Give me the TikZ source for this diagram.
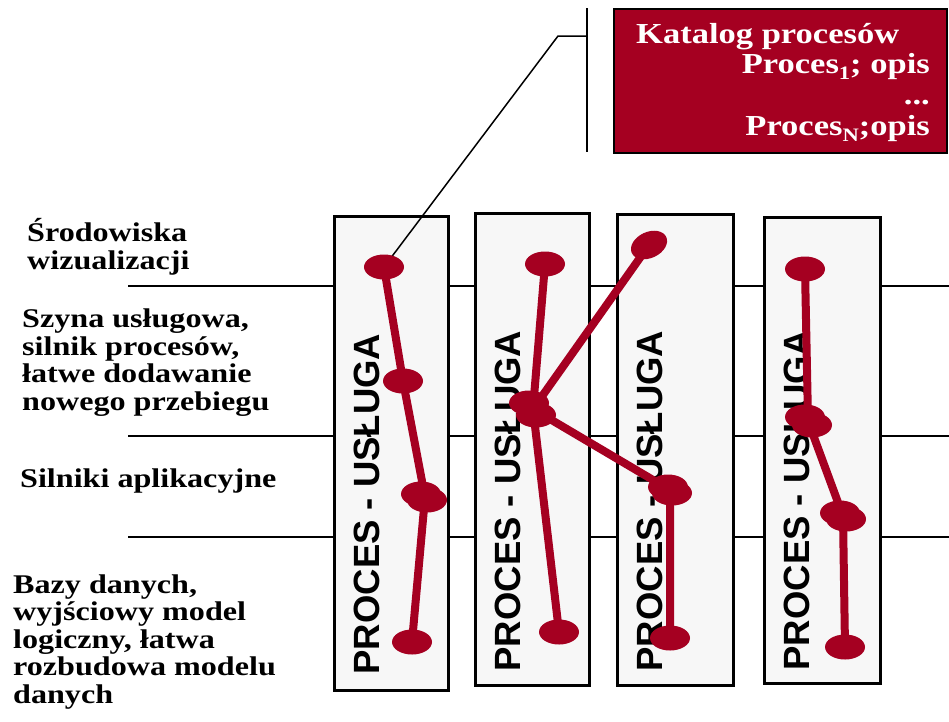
\documentclass[tikz,border=0pt]{standalone}
\usepackage{fontspec}
\setmainfont{Liberation Serif}
\newfontfamily\labfont{Liberation Serif}[FakeStretch=1.19]
\newfontfamily\boxfont{Liberation Sans}
\usetikzlibrary{shapes.geometric}
\definecolor{procred}{RGB}{165,0,33}
\definecolor{boxgray}{RGB}{247,247,247}
\newcommand\lsub[1]{\raisebox{-0.22em}{\fontsize{19}{19}\selectfont #1}}
\begin{document}
\begin{tikzpicture}[x=1pt,y=-1pt,
  layerline/.style={line width=1.5pt, black},
  procbox/.style={draw=black, line width=3pt, fill=boxgray, rectangle, inner sep=0, anchor=north west},
  proclabel/.style={rotate=90, font=\boxfont\bfseries\fontsize{36.5}{40}\selectfont, inner sep=0},
  dot/.style={ellipse, fill=procred, minimum width=40pt, minimum height=25pt, inner sep=0},
  link/.style={procred, line width=8pt},
  thinlink/.style={black, line width=1.5pt},
  lab/.style={font=\labfont\bfseries\fontsize{27}{27.5}\selectfont, align=left, anchor=base west, inner sep=0},
  cattext/.style={font=\labfont\bfseries\fontsize{29}{30}\selectfont, text=white, inner sep=0}
]
\useasboundingbox (0,0) rectangle (949,721);

% layer lines
\coordinate (l1a) at (128,286); \coordinate (l1b) at (949,286);
\coordinate (l2a) at (128,436); \coordinate (l2b) at (949,436);
\coordinate (l3a) at (128,537); \coordinate (l3b) at (949,537);
\draw[layerline] (l1a) -- (l1b);
\draw[layerline] (l2a) -- (l2b);
\draw[layerline] (l3a) -- (l3b);

% process boxes
\node[procbox, minimum width=114pt, minimum height=474pt] (b1) at (333,215) {};
\node[procbox, minimum width=114pt, minimum height=472pt] (b2) at (474,212) {};
\node[procbox, minimum width=116pt, minimum height=471pt] (b3) at (616,213) {};
\node[procbox, minimum width=116pt, minimum height=466pt] (b4) at (763,216) {};

\node[proclabel] (t1) at (367,504) {PROCES - USŁUGA};
\node[proclabel] (t2) at (508,501) {PROCES - USŁUGA};
\node[proclabel] (t3) at (650,501) {PROCES - USŁUGA};
\node[proclabel] (t4) at (797,500) {PROCES - USŁUGA};

% left labels (anchor = baseline of last line)
\node[lab] (s1) at (27,269) {Środowiska\\wizualizacji};
\node[lab] (s2) at (22,410) {Szyna usługowa,\\silnik procesów,\\łatwe dodawanie\\nowego przebiegu};
\node[lab] (s3) at (20,487) {Silniki aplikacyjne};
\node[lab] (s4) at (13,703) {Bazy danych,\\wyjściowy model\\logiczny, łatwa\\rozbudowa modelu\\danych};

% catalogue box
\node[draw=black, line width=1.5pt, fill=procred, rectangle, inner sep=0, anchor=north west,
      minimum width=333pt, minimum height=144pt] (cat) at (613,8) {};
\node[cattext, anchor=base west] (c1) at (636,43) {Katalog procesów};
\node[cattext, anchor=base east] (c2) at (930,73) {Proces\lsub{1}; opis};
\node[cattext, anchor=base east] (c3) at (930,104) {...};
\node[cattext, anchor=base east] (c4) at (930,135) {Proces\lsub{N};opis};

% callout line
\coordinate (vt) at (587,8); \coordinate (vb) at (587,152);
\coordinate (kn) at (558,36); \coordinate (kr) at (587,36);
\draw[thinlink] (vt) -- (vb);

% process points
\coordinate (p1a) at (384,267);
\coordinate (p1b) at (403,381);
\coordinate (p1c) at (425,497);
\coordinate (p1d) at (412,642);
\coordinate (p2a) at (545,264);
\coordinate (hub) at (533,409);
\coordinate (p2c) at (559,632);
\coordinate (p3a) at (649,245);
\coordinate (p3b) at (670,490);
\coordinate (p3c) at (670,638);
\coordinate (p4a) at (805,269);
\coordinate (p4b) at (808,421);
\coordinate (p4c) at (843,516);
\coordinate (p4d) at (845,647);

\draw[thinlink] (p1a) -- (kn) -- (kr);

\draw[link] (p1a) -- (p1b) -- (p1c) -- (p1d);
\draw[link] (p2a) -- (hub) -- (p2c);
\draw[link] (hub) -- (p3a);
\draw[link] (hub) -- (p3b) -- (p3c);
\draw[link] (p4a) -- (p4b) -- (p4c) -- (p4d);

% ellipses
\node[dot] (e1a) at (p1a) {};
\node[dot] (e1b) at (p1b) {};
\node[dot] (e1c) at (421,494) {};
\node[dot] (e1c2) at (427,500) {};
\node[dot] (e1d) at (p1d) {};
\node[dot] (e2a) at (p2a) {};
\node[dot] (eh1) at (529,403) {};
\node[dot] (eh2) at (536,415) {};
\node[dot] (e2c) at (p2c) {};
\node[dot, rotate=25, minimum width=38pt, minimum height=26pt] (e3a) at (p3a) {};
\node[dot] (e3b) at (668,487) {};
\node[dot] (e3b2) at (672,493) {};
\node[dot] (e3c) at (p3c) {};
\node[dot] (e4a) at (p4a) {};
\node[dot] (e4b) at (805,417) {};
\node[dot] (e4b2) at (812,425) {};
\node[dot] (e4c) at (840,513) {};
\node[dot] (e4c2) at (846,519) {};
\node[dot] (e4d) at (p4d) {};
\end{tikzpicture}
\end{document}
